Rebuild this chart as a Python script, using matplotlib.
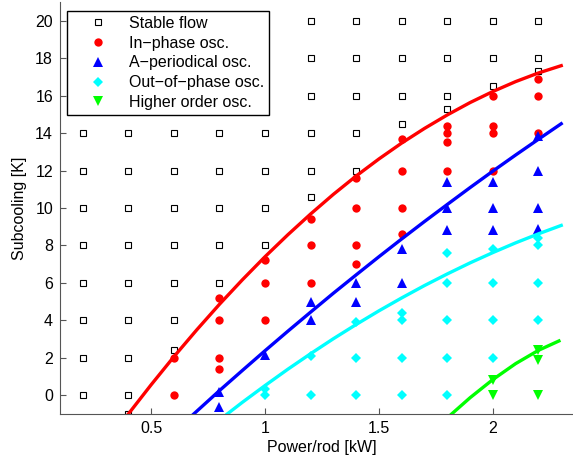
import matplotlib
matplotlib.use('Agg')
import matplotlib.pyplot as plt

plt.rcParams['font.family'] = ['Liberation Sans', 'DejaVu Sans']

# measured points: (power per rod [kW], subcooling [K])
stable_x = ([0.2] * 11 + [0.4] * 12 + [0.6] * 10 + [0.8] * 8 + [1.0] * 7
            + [1.2] * 6 + [1.4] * 5 + [1.6] * 4 + [1.8] * 4 + [2.0] * 3 + [2.2] * 3)
stable_y = ([0, 2, 4, 6, 8, 10, 12, 14, 16, 18, 20]
            + [-1, 0, 2, 4, 6, 8, 10, 12, 14, 16, 18, 20]
            + [2.4, 4, 6, 8, 10, 12, 14, 16, 18, 20]
            + [6, 8, 10, 12, 14, 16, 18, 20]
            + [8, 10, 12, 14, 16, 18, 20]
            + [10.6, 12, 14, 16, 18, 20]
            + [12, 14, 16, 18, 20]
            + [14.5, 16, 18, 20]
            + [15.3, 16, 18, 20]
            + [16.5, 18, 20]
            + [17.3, 18, 20])

inphase_x = ([0.6] * 2 + [0.8] * 4 + [1.0] * 3 + [1.2] * 3 + [1.4] * 4
             + [1.6] * 4 + [1.8] * 4 + [2.0] * 4 + [2.2] * 3)
inphase_y = ([0, 2] + [1.4, 2, 4, 5.2] + [4, 6, 7.2] + [6, 8, 9.4]
             + [7.0, 8, 10, 11.6] + [8.6, 10, 12, 13.7] + [12, 13.5, 14, 14.4]
             + [12, 14, 14.4, 16] + [14, 16, 16.9])

aperiodic_x = ([0.8] * 2 + [1.0] + [1.2] * 2 + [1.4] * 2 + [1.6] * 2
               + [1.8] * 3 + [2.0] * 3 + [2.2] * 4)
aperiodic_y = ([-0.6, 0.2] + [2.15] + [4, 5] + [5, 6] + [6, 7.8]
               + [8.8, 10, 11.4] + [8.8, 10, 11.4] + [8.9, 10, 12, 13.85])

outphase_x = ([1.0] * 2 + [1.2] * 2 + [1.4] * 3 + [1.6] * 4 + [1.8] * 5
              + [2.0] * 4 + [2.2] * 4)
outphase_y = ([0, 0.35] + [0, 2.1] + [0, 2, 3.9] + [0, 2, 4, 4.4]
              + [0, 2, 4, 6, 7.6] + [2, 4, 6, 7.8] + [4, 6, 8, 8.4])

higher_x = [2.0, 2.0, 2.2, 2.2, 2.2]
higher_y = [0, 0.84, 0, 1.9, 2.4]

# stability boundaries
red_x = [0.4, 0.5, 0.6, 0.7, 0.8, 0.9, 1.0, 1.1, 1.2, 1.3, 1.4, 1.5, 1.6,
         1.7, 1.8, 1.9, 2.0, 2.1, 2.2, 2.3]
red_y = [-1.0, 0.56, 2.06, 3.49, 4.86, 6.16, 7.40, 8.57, 9.68, 10.73, 11.71,
         12.62, 13.47, 14.25, 14.97, 15.63, 16.22, 16.75, 17.21, 17.60]

blue_x = [0.687, 0.8, 0.9, 1.0, 1.1, 1.2, 1.3, 1.4, 1.5, 1.6, 1.7, 1.8, 1.9,
          2.0, 2.1, 2.2, 2.3]
blue_y = [-1.0, 0.25, 1.32, 2.38, 3.42, 4.44, 5.45, 6.43, 7.40, 8.35, 9.28,
          10.19, 11.09, 11.97, 12.83, 13.67, 14.50]

cyan_x = [0.834, 0.9, 1.0, 1.1, 1.2, 1.3, 1.4, 1.5, 1.6, 1.7, 1.8, 1.9, 2.0,
          2.1, 2.2, 2.3]
cyan_y = [-1.0, -0.38, 0.52, 1.39, 2.22, 3.02, 3.78, 4.51, 5.20, 5.86, 6.48,
          7.07, 7.62, 8.14, 8.62, 9.07]

green_x = [1.819, 1.9, 2.0, 2.1, 2.2, 2.29]
green_y = [-1.0, -0.13, 0.84, 1.69, 2.40, 2.90]

FS = 11.5

fig = plt.figure(figsize=(5.73, 4.61), dpi=100)
ax = fig.add_axes([60 / 573, 1 - 414 / 461, 524 / 573, 412 / 461])

ax.plot(stable_x, stable_y, 's', color='black', mfc='none', ms=4.3, mew=0.8,
        label='Stable flow')
ax.plot(inphase_x, inphase_y, 'o', color='red', ms=6, mew=0,
        label='In\u2212phase osc.')
ax.plot(aperiodic_x, aperiodic_y, '^', color='blue', ms=7.5, mew=0,
        label='A\u2212periodical osc.')
ax.plot(outphase_x, outphase_y, 'D', color='cyan', ms=5.5, mew=0,
        label='Out\u2212of\u2212phase osc.')
ax.plot(higher_x, higher_y, 'v', color='#00ff00', ms=7.5, mew=0,
        label='Higher order osc.')

ax.plot(red_x, red_y, '-', color='red', lw=2.4)
ax.plot(blue_x, blue_y, '-', color='blue', lw=2.4)
ax.plot(cyan_x, cyan_y, '-', color='cyan', lw=2.4)
ax.plot(green_x, green_y, '-', color='#00ff00', lw=2.4)

ax.set_xlim(0.1, 2.4)
ax.set_ylim(-1, 21)
ax.set_xticks([0.5, 1, 1.5, 2])
ax.set_xticklabels(['0.5', '1', '1.5', '2'])
ax.set_yticks(range(0, 21, 2))
ax.tick_params(direction='in', length=4, width=0.8, color='#555555',
               labelsize=FS, pad=5)
for side in ['top', 'right']:
    ax.spines[side].set_visible(False)
for side in ['left', 'bottom']:
    ax.spines[side].set_color('#555555')
    ax.spines[side].set_linewidth(0.8)

ax.set_xlabel('Power/rod [kW]', fontsize=FS, labelpad=3)
ax.set_ylabel('Subcooling [K]', fontsize=FS, labelpad=6)

leg = ax.legend(loc='upper left', bbox_to_anchor=(67 / 573, 1 - 11 / 461),
                bbox_transform=fig.transFigure, borderaxespad=0,
                fontsize=FS, numpoints=1, handlelength=3.3, handletextpad=0.3,
                labelspacing=0.3, borderpad=0.3, fancybox=False,
                framealpha=1, edgecolor='black')
leg.get_frame().set_linewidth(1.0)

plt.savefig('out.png', dpi=100, facecolor='white')
